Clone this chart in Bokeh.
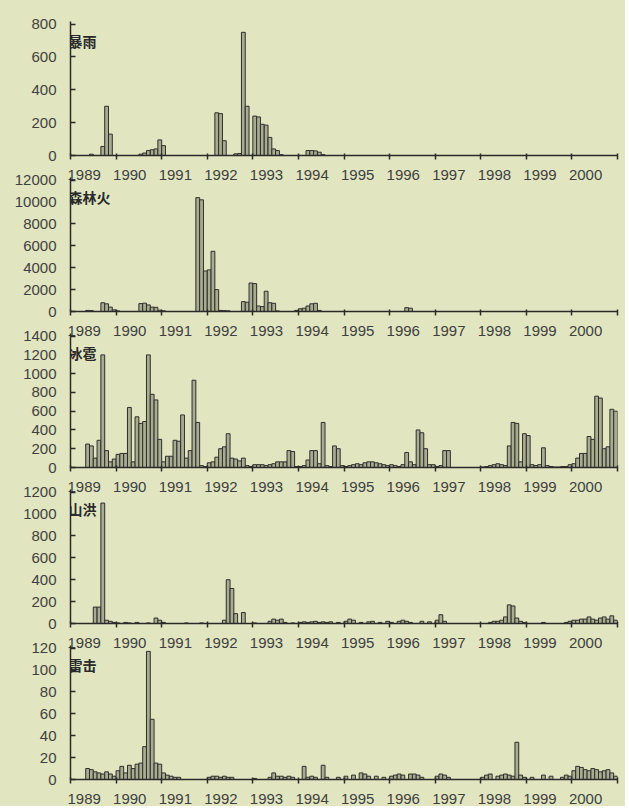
from bokeh.plotting import figure
from bokeh.layouts import column
from bokeh.models import Range1d, FixedTicker, CustomJSTickFormatter, Label, ColumnDataSource
from bokeh.embed import file_html
from bokeh.resources import INLINE

# ---------------- data (monthly values, Jan 1989 - Dec 2000) ----------------
YEARS = list(range(1989, 2001))

LABELS = ["暴雨", "森林火", "冰雹", "山洪", "雷击"]

P1 = [
    0, 0, 0, 0, 0, 8, 0, 0, 55, 300, 130, 0,            # 1989
    0, 0, 0, 0, 0, 0, 8, 15, 30, 35, 40, 95,            # 1990
    60, 0, 0, 0, 0, 0, 0, 0, 0, 0, 0, 0,                # 1991
    0, 0, 260, 255, 90, 0, 0, 10, 12, 750, 300, 0,      # 1992
    240, 235, 190, 185, 110, 40, 30, 5, 0, 0, 0, 0,     # 1993
    0, 0, 30, 30, 28, 20, 5, 0, 0, 0, 0, 0,             # 1994
    0, 0, 0, 0, 0, 0, 0, 0, 0, 0, 0, 0,                 # 1995
    0, 0, 0, 0, 0, 0, 0, 0, 0, 0, 0, 0,                 # 1996
    0, 0, 0, 0, 0, 0, 0, 0, 0, 0, 0, 0,                 # 1997
    0, 0, 0, 0, 0, 0, 0, 0, 0, 0, 0, 0,                 # 1998
    0, 0, 0, 0, 0, 0, 0, 0, 0, 0, 0, 0,                 # 1999
    0, 0, 0, 0, 0, 0, 0, 0, 0, 0, 0, 0,                 # 2000
]

P2 = [
    0, 0, 0, 0, 100, 80, 0, 0, 800, 700, 400, 150,
    50, 0, 0, 0, 0, 0, 720, 760, 600, 400, 380, 120,
    60, 0, 0, 0, 0, 0, 0, 0, 0, 10400, 10200, 3700,
    3800, 5500, 2000, 100, 80, 60, 0, 0, 0, 900, 850, 2600,
    2550, 500, 450, 1850, 800, 750, 50, 0, 0, 0, 0, 100,
    250, 300, 500, 700, 750, 100, 0, 0, 0, 0, 0, 0,
    0, 0, 0, 0, 0, 0, 0, 0, 0, 0, 0, 0,
    0, 0, 0, 0, 350, 300, 0, 0, 0, 0, 0, 0,
    0, 0, 0, 0, 0, 0, 0, 0, 0, 0, 0, 0,
    0, 0, 0, 0, 0, 0, 0, 0, 0, 0, 0, 0,
    0, 0, 0, 0, 0, 0, 0, 0, 0, 0, 0, 0,
    0, 0, 0, 0, 0, 0, 0, 0, 0, 0, 0, 0,
]

P3 = [
    0, 0, 0, 0, 250, 230, 100, 290, 1200, 180, 60, 90,
    140, 150, 150, 640, 60, 540, 470, 490, 1200, 780, 720, 300,
    60, 120, 120, 290, 280, 560, 100, 180, 930, 480, 20, 10,
    50, 60, 110, 200, 220, 360, 100, 90, 70, 100, 20, 10,
    30, 30, 30, 20, 30, 40, 60, 60, 60, 180, 170, 10,
    10, 20, 80, 180, 180, 40, 480, 20, 10, 230, 200, 20,
    10, 20, 30, 40, 30, 50, 60, 60, 50, 40, 30, 20,
    30, 20, 10, 30, 160, 60, 30, 400, 370, 200, 30, 30,
    10, 20, 180, 180, 0, 0, 0, 0, 0, 0, 0, 0,
    5, 10, 20, 30, 40, 30, 20, 230, 480, 470, 60, 360,
    340, 30, 20, 30, 210, 20, 10, 5, 5, 10, 10, 30,
    40, 100, 150, 150, 330, 300, 760, 740, 200, 220, 620, 600,
]

P4 = [
    0, 0, 0, 0, 0, 0, 150, 150, 1100, 30, 20, 10,
    5, 0, 10, 5, 0, 10, 0, 0, 5, 0, 50, 30,
    10, 0, 0, 0, 0, 0, 5, 0, 0, 0, 5, 0,
    0, 0, 0, 0, 30, 400, 320, 90, 0, 100, 0, 0,
    5, 0, 0, 0, 20, 40, 30, 40, 10, 0, 5, 0,
    10, 15, 10, 15, 20, 10, 15, 10, 15, 0, 10, 0,
    20, 40, 30, 0, 10, 0, 15, 20, 0, 10, 0, 20,
    10, 0, 20, 30, 20, 10, 0, 0, 20, 0, 15, 0,
    30, 80, 20, 0, 0, 0, 0, 0, 0, 0, 0, 0,
    0, 0, 10, 20, 20, 30, 60, 170, 160, 50, 20, 10,
    0, 0, 0, 0, 10, 0, 0, 0, 0, 0, 10, 20,
    30, 30, 40, 40, 60, 40, 30, 50, 60, 40, 70, 30,
]

P5 = [
    0, 0, 0, 0, 10, 9, 7, 6, 5, 7, 5, 3,
    8, 12, 6, 13, 10, 14, 15, 30, 117, 55, 15, 14,
    6, 4, 3, 2, 2, 0, 0, 0, 0, 0, 0, 0,
    2, 3, 3, 2, 3, 2, 2, 0, 0, 0, 0, 0,
    1, 0, 0, 0, 2, 6, 3, 3, 2, 3, 2, 0,
    0, 12, 2, 3, 2, 0, 13, 2, 0, 0, 2, 0,
    3, 0, 4, 0, 6, 5, 3, 0, 3, 0, 2, 0,
    3, 4, 5, 4, 0, 5, 5, 4, 2, 0, 0, 0,
    3, 5, 4, 2, 0, 0, 0, 0, 0, 0, 0, 0,
    2, 4, 5, 0, 3, 4, 5, 4, 3, 34, 4, 2,
    0, 2, 0, 0, 4, 0, 3, 0, 0, 2, 4, 3,
    8, 12, 11, 9, 8, 10, 9, 7, 8, 9, 6, 3,
]

YTICKS = [
    [0, 200, 400, 600, 800],
    [0, 2000, 4000, 6000, 8000, 10000, 12000],
    [0, 200, 400, 600, 800, 1000, 1200, 1400],
    [0, 200, 400, 600, 800, 1000, 1200],
    [0, 20, 40, 60, 80, 100, 120],
]
SERIES = [P1, P2, P3, P4, P5]

# ---------------- styling ----------------
BG = "#e1e6c1"
BAR_FILL = "#a9ad90"
EDGE = "#2e2e2e"
AXIS = "#2a2a2a"
TXT = "#404040"

XS = [y + (m + 0.5) / 12 for y in YEARS for m in range(12)]

n = len(SERIES)
figs = []
for i, (lab, vals, yt) in enumerate(zip(LABELS, SERIES, YTICKS)):
    ymax = yt[-1]
    last = i == n - 1
    bottom = 27 if last else 30
    p = figure(width=625, height=8 + 134 + bottom,
               x_range=Range1d(YEARS[0], YEARS[-1] + 1),
               y_range=Range1d(0, ymax * 1.02),
               output_backend="svg", toolbar_location=None,
               min_border_left=70, min_border_right=8,
               min_border_top=8, min_border_bottom=bottom,
               background_fill_alpha=0, border_fill_alpha=0,
               outline_line_color=None,
               margin=(13 if i == 0 else -16, 0, 0, 0))
    src = ColumnDataSource(dict(x=XS, top=vals))
    p.vbar(x="x", top="top", bottom=0, width=1 / 12, source=src,
           fill_color=BAR_FILL, line_color=EDGE, line_width=1)

    p.xgrid.visible = False
    p.ygrid.visible = False

    xa = p.xaxis[0]
    xa.ticker = FixedTicker(ticks=[y + 0.3 for y in YEARS],
                            minor_ticks=YEARS + [YEARS[-1] + 1])
    xa.formatter = CustomJSTickFormatter(code="return String(Math.floor(tick));")
    xa.major_tick_in = 0
    xa.major_tick_out = 0
    xa.minor_tick_in = 2
    xa.minor_tick_out = 4
    xa.minor_tick_line_color = AXIS
    xa.minor_tick_line_width = 1.5
    xa.axis_line_color = AXIS
    xa.axis_line_width = 1.5
    xa.major_label_standoff = 10
    xa.major_label_text_font = "Liberation Sans"
    xa.major_label_text_font_size = "15px"
    xa.major_label_text_color = TXT

    ya = p.yaxis[0]
    ya.ticker = FixedTicker(ticks=yt, minor_ticks=[])
    ya.major_tick_in = 5
    ya.major_tick_out = 0
    ya.major_tick_line_color = AXIS
    ya.major_tick_line_width = 1.5
    ya.axis_line_color = AXIS
    ya.axis_line_width = 1.5
    ya.major_label_standoff = 14
    ya.major_label_text_font = "Liberation Sans"
    ya.major_label_text_font_size = "15px"
    ya.major_label_text_color = TXT

    p.add_layout(Label(x=YEARS[0], y=ymax * 0.87, text=lab, x_offset=-2,
                       text_baseline="middle", text_align="left",
                       text_font="Noto Sans CJK SC", text_font_size="14px",
                       text_font_style="bold", text_color="#2a2a2a"))
    figs.append(p)

layout = column(*figs, styles={"background-color": BG})

with open("out.html", "w") as f:
    f.write(file_html(layout, INLINE))
